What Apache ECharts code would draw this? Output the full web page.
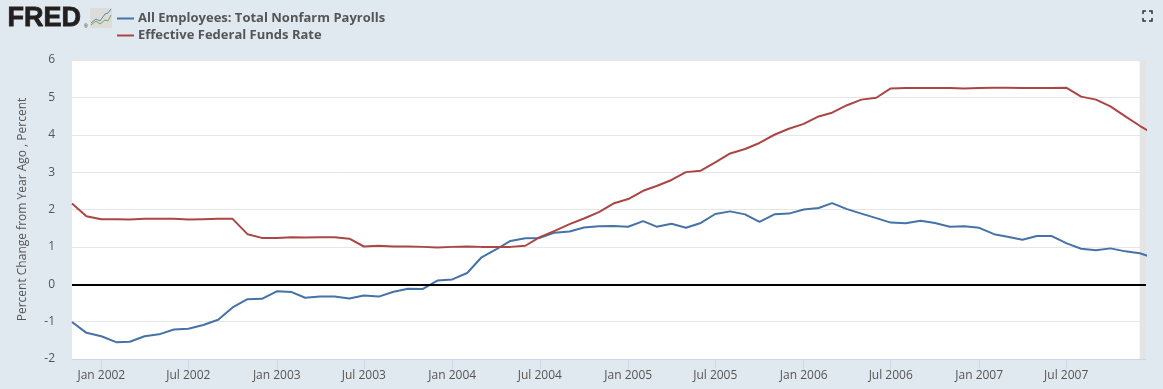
<!DOCTYPE html>
<html><head><meta charset="utf-8">
<style>html,body{margin:0;padding:0;background:#e1e9f0}#c{width:1163px;height:389px}</style>
<script src="https://cdn.jsdelivr.net/npm/echarts@6/dist/echarts.min.js"></script>
</head><body><div id="c"></div>
<script>
const payrollName = 'All Employees: Total Nonfarm Payrolls';
const fundsName = 'Effective Federal Funds Rate';
const yAxisName = 'Percent Change from Year Ago , Percent';
const payroll = [-1.01,-1.30,-1.39,-1.55,-1.54,-1.39,-1.34,-1.21,-1.19,-1.09,-0.95,-0.62,-0.40,-0.39,
 -0.19,-0.21,-0.36,-0.33,-0.33,-0.38,-0.30,-0.33,-0.20,-0.12,-0.125,0.10,
 0.13,0.30,0.71,0.93,1.16,1.23,1.24,1.38,1.41,1.52,1.55,1.56,
 1.54,1.69,1.54,1.62,1.51,1.64,1.88,1.95,1.87,1.67,1.87,1.89,
 2.00,2.04,2.17,2.01,1.89,1.77,1.65,1.63,1.70,1.64,1.54,1.55,
 1.51,1.34,1.27,1.19,1.29,1.29,1.10,0.95,0.91,0.96,0.88,0.83,0.70];
const funds = [2.16,1.82,1.74,1.74,1.73,1.75,1.75,1.75,1.73,1.74,1.75,1.75,1.34,1.24,
 1.24,1.26,1.25,1.26,1.26,1.22,1.01,1.03,1.01,1.01,1.00,0.98,
 1.00,1.01,1.00,1.00,1.00,1.03,1.26,1.43,1.61,1.76,1.93,2.16,
 2.28,2.50,2.63,2.79,3.00,3.04,3.26,3.50,3.62,3.78,4.00,4.16,
 4.29,4.49,4.59,4.79,4.94,4.99,5.24,5.25,5.25,5.25,5.25,5.24,
 5.25,5.26,5.26,5.25,5.25,5.25,5.26,5.02,4.94,4.76,4.49,4.24,4.00];
const tickDates = ['2002-01-01','2002-07-01','2003-01-01','2003-07-01','2004-01-01','2004-07-01','2005-01-01','2005-07-01','2006-01-01','2006-07-01','2007-01-01','2007-07-01'];
const tickLabels = ['Jan 2002','Jul 2002','Jan 2003','Jul 2003','Jan 2004','Jul 2004','Jan 2005','Jul 2005','Jan 2006','Jul 2006','Jan 2007','Jul 2007'];
const axisStart = '2001-11-01';
const recession = ['2007-12-01','2007-12-14'];
const firstYear = 2001, firstMonth = 10; // Nov 2001 (zero-based month)

const pad = n => String(n).padStart(2,'0');
const ts = s => Date.parse(s+'T00:00:00Z');
const months = payroll.map((_,i)=>{const t=firstYear*12+firstMonth+i;return ts(Math.floor(t/12)+'-'+pad(t%12+1)+'-01');});
const labelMap = {}; tickDates.forEach((d,i)=>labelMap[ts(d)]=tickLabels[i]);
const tickVals = tickDates.map(ts);
const yMin = -2, yMax = 6;

const chart = echarts.init(document.getElementById('c'),null,{renderer:'canvas'});
const font = '"Open Sans", sans-serif';
const corner = (pts)=>({type:'polyline',shape:{points:pts},style:{stroke:'#333',lineWidth:1.5,fill:null},silent:true});
chart.setOption({
 animation:false,
 backgroundColor:'#e1e9f0',
 textStyle:{fontFamily:font},
 grid:{left:72,right:17,top:60,bottom:30,show:true,backgroundColor:'#fff',borderWidth:0},
 legend:{show:true,orient:'vertical',left:112,top:7,itemWidth:17,itemHeight:2,itemGap:4,icon:'rect',
  textStyle:{fontFamily:font,fontWeight:'bold',fontSize:13,color:'#555',letterSpacing:0.38,padding:[0,0,0,-1]},
  data:[payrollName,fundsName]},
 xAxis:{type:'value',min:ts(axisStart),max:ts(recession[1]),scale:true,
  axisLine:{onZero:false,lineStyle:{color:'#ccd6eb',width:1}},
  axisTick:{show:true,length:10,customValues:tickVals,lineStyle:{color:'#ccd6eb'}},
  axisLabel:{customValues:tickVals,formatter:v=>labelMap[v]||'',color:'#555',fontSize:12,fontFamily:font,margin:11,hideOverlap:false,showMinLabel:true,showMaxLabel:true},
  splitLine:{show:false},minorTick:{show:false}},
 yAxis:{type:'value',min:yMin,max:yMax,interval:1,name:yAxisName,nameLocation:'middle',nameGap:43,
  nameTextStyle:{color:'#555',fontSize:12,fontFamily:font},
  axisLine:{show:false},axisTick:{show:false},
  axisLabel:{color:'#555',fontSize:12,fontFamily:font,margin:17},
  splitLine:{lineStyle:{color:'#e6e6e6',width:1}}},
 series:[
  {name:'Recession',type:'custom',silent:true,z:1,clip:true,data:[[ts(recession[0]),ts(recession[1])]],encode:{x:[0,1]},
   renderItem:(p,api)=>{
     const s=p.coordSys;
     const x0=api.coord([api.value(0),yMax])[0];
     return {type:'rect',shape:{x:x0,y:s.y,width:s.x+s.width-x0,height:s.height},style:{fill:'#e4e4e4'}};
   }},
  {name:payrollName,type:'line',data:months.map((m,i)=>[m,payroll[i]]),showSymbol:false,smooth:false,
   lineStyle:{color:'#4572a7',width:2},itemStyle:{color:'#4572a7'},z:3,
   markLine:{silent:true,symbol:'none',label:{show:false},lineStyle:{color:'#000',width:2,type:'solid'},data:[{yAxis:0}]}},
  {name:fundsName,type:'line',data:months.map((m,i)=>[m,funds[i]]),showSymbol:false,smooth:false,
   lineStyle:{color:'#aa4643',width:2},itemStyle:{color:'#aa4643'},z:3}
 ],
 graphic:[
  {type:'text',left:7,top:5,silent:true,style:{text:'FRED',fontFamily:'"Liberation Sans",Arial,sans-serif',fontWeight:'bold',fontSize:27,fill:'#231f20',stroke:'#231f20',lineWidth:0.8,letterSpacing:2.6}},
  {type:'text',left:84,top:24,silent:true,style:{text:'®',fontFamily:'"Liberation Sans",Arial,sans-serif',fontSize:5,fill:'#231f20'}},
  {type:'rect',shape:{x:90,y:8,width:22,height:20,r:1},style:{fill:'#dcdcd8'},silent:true},
  {type:'polyline',shape:{points:[[91,23],[96,19],[100,21],[105,14],[108,13],[111,9]]},style:{stroke:'#5f88b0',lineWidth:1,fill:null},silent:true},
  {type:'polyline',shape:{points:[[91,25],[96,21],[100,24],[105,20],[108,21],[111,15]]},style:{stroke:'#7fa35a',lineWidth:1,fill:null},silent:true},
  corner([[1143,14],[1143,11],[1146,11]]),
  corner([[1149,11],[1152,11],[1152,14]]),
  corner([[1143,18],[1143,21],[1146,21]]),
  corner([[1149,21],[1152,21],[1152,18]])
 ]
});
</script></body></html>
